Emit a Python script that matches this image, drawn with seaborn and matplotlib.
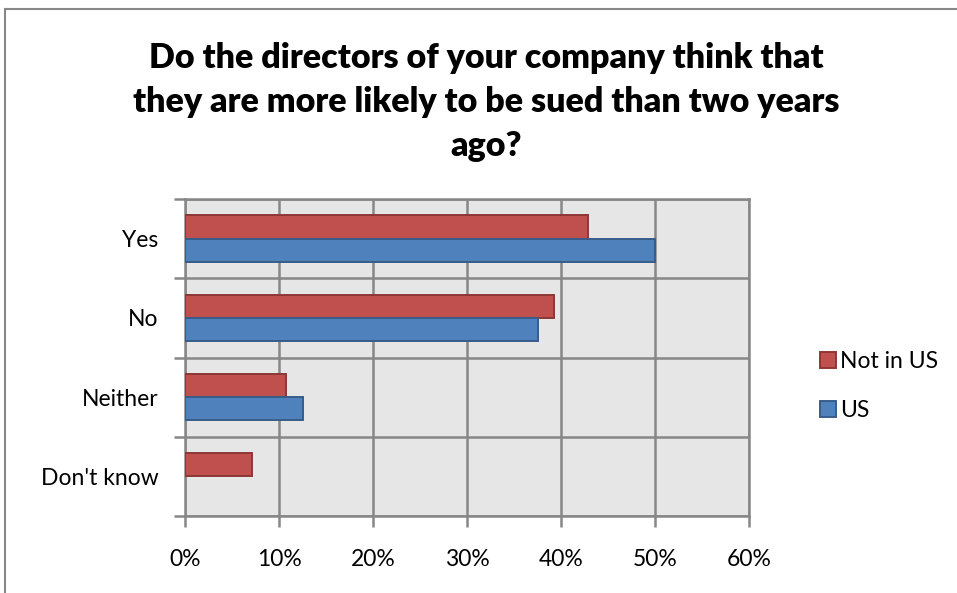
import matplotlib
matplotlib.use("Agg")
import matplotlib.pyplot as plt
from matplotlib.patches import Patch
from matplotlib.lines import Line2D
from matplotlib.ticker import FixedLocator, PercentFormatter
import seaborn as sns
import pandas as pd

# Survey answers and share of respondents (percent)
answers = ["Yes", "No", "Neither", "Don't know"]
not_in_us = [42.86, 39.29, 10.71, 7.14]
us = [50.0, 37.5, 12.5, 0.0]
groups = ["Not in US", "US"]
x_ticks = [0, 10, 20, 30, 40, 50, 60]

df = pd.DataFrame({
    "answer": answers * 2,
    "share": not_in_us + us,
    "group": [groups[0]] * len(answers) + [groups[1]] * len(answers),
})

sns.set_theme(style="white")
plt.rcParams["font.family"] = ["Lato", "DejaVu Sans"]
plt.rcParams["text.color"] = "black"

fill = {"Not in US": "#C0504D", "US": "#4F81BD"}
edge = {"Not in US": "#8C3836", "US": "#385D8A"}
grid_c = "#878787"
label_size = 16.5

fig = plt.figure(figsize=(9.57, 5.93), dpi=100)
ax = fig.add_axes([185 / 957, 1 - 516 / 593, (749 - 185) / 957, (516 - 199) / 593])
ax.set_facecolor("#E6E6E6")

sns.barplot(data=df, y="answer", x="share", hue="group", order=answers,
            hue_order=groups, palette=fill, orient="h", width=0.585,
            ax=ax, legend=False, saturation=1)

for container, g in zip(ax.containers, groups):
    for bar in container:
        bar.set_edgecolor(edge[g])
        bar.set_linewidth(1.4)
        bar.set_zorder(3)
        if bar.get_width() == 0:
            bar.set_visible(False)

ax.set_xlim(0, 60)
ax.set_ylim(3.5, -0.5)
ax.xaxis.set_major_locator(FixedLocator(x_ticks))
ax.xaxis.set_major_formatter(PercentFormatter(decimals=0))
ax.yaxis.set_minor_locator(FixedLocator([-0.5, 0.5, 1.5, 2.5, 3.5]))

ax.grid(True, axis="x", which="major", color=grid_c, linewidth=1.8, zorder=1)
ax.grid(True, axis="y", which="minor", color=grid_c, linewidth=1.8, zorder=1)
ax.grid(False, axis="y", which="major")
ax.set_axisbelow(True)

ax.tick_params(axis="y", which="major", length=0, pad=19, labelsize=label_size,
               labelcolor="black")
ax.tick_params(axis="y", which="minor", length=8, width=1.8, color=grid_c, left=True)
ax.tick_params(axis="x", which="major", length=8, width=1.8, color=grid_c,
               bottom=True, pad=16, labelsize=label_size, labelcolor="black")

for s in ax.spines.values():
    s.set_color(grid_c)
    s.set_linewidth(1.8)

ax.set_xlabel("")
ax.set_ylabel("")

fig.text(486 / 957, 1 - 102 / 593,
         "Do the directors of your company think that\n"
         "they are more likely to be sued than two years\n"
         "ago?",
         ha="center", va="center", fontsize=24.5, fontweight="heavy",
         linespacing=1.45, color="black")

handles = [Patch(facecolor=fill[g], edgecolor=edge[g], linewidth=1.4) for g in groups]
leg = fig.legend(handles, groups, loc="center left",
                 bbox_to_anchor=(799 / 957, 1 - 386 / 593), frameon=False,
                 fontsize=label_size, handlelength=0.7, handleheight=0.7,
                 handletextpad=0.2, labelspacing=1.2)
for t in leg.get_texts():
    t.set_color("black")

# chart frame
fig.add_artist(Line2D([5 / 957, 1], [1 - 9 / 593, 1 - 9 / 593],
                      transform=fig.transFigure, color=grid_c, linewidth=1.5))
fig.add_artist(Line2D([5 / 957, 5 / 957], [0, 1 - 9 / 593],
                      transform=fig.transFigure, color=grid_c, linewidth=1.5))

fig.savefig("out.png", dpi=100)
